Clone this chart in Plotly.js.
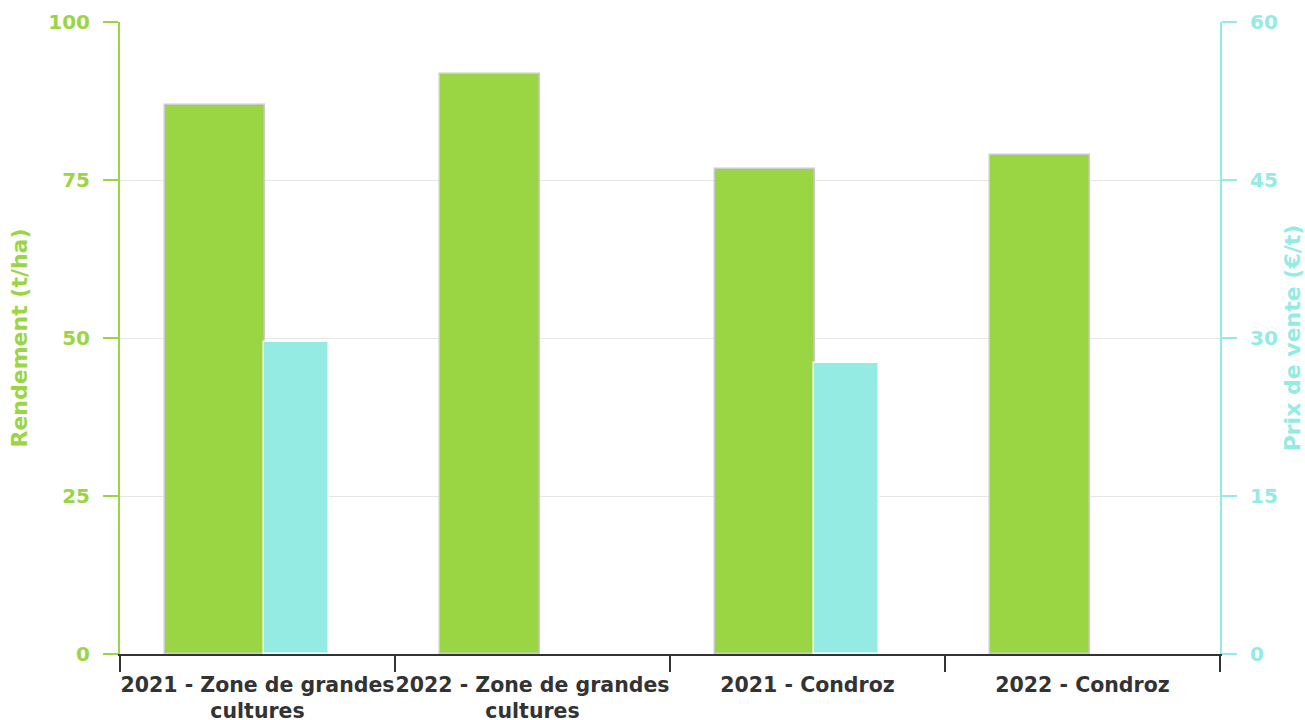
<!DOCTYPE html>
<html>
<head>
<meta charset="utf-8">
<script src="https://cdn.plot.ly/plotly-3.0.1.min.js"></script>
<style>html,body{margin:0;padding:0;background:#fff;}#chart{width:1305px;height:720px;}</style>
</head>
<body>
<div id="chart"></div>
<script>
const categories = ["2021 - Zone de grandes<br>cultures", "2022 - Zone de grandes<br>cultures", "2021 - Condroz", "2022 - Condroz"];
const rendement = [86.8, 91.8, 76.8, 78.9];
const prixVente = [29.6, null, 27.6, null];
const leftTicks = [0, 25, 50, 75, 100];
const rightTicks = [0, 15, 30, 45, 60];

const green = "#9ad544";
const cyan = "#94ebe4";
const font = "DejaVu Sans, sans-serif";

const traces = [
  {
    type: "bar", x: categories, y: rendement, yaxis: "y",
    name: "Rendement (t/ha)",
    marker: {color: green, line: {color: "#cccccc", width: 1.5}},
    offset: -0.336, width: 0.364, hoverinfo: "y"
  },
  {
    type: "bar", x: categories, y: prixVente, yaxis: "y2",
    name: "Prix de vente (€/t)",
    marker: {color: cyan, line: {color: "#ffffff", width: 1.5}},
    offset: 0.022, width: 0.238, hoverinfo: "y"
  }
];

const layout = {
  width: 1305, height: 720,
  margin: {l: 120, r: 85, t: 22, b: 66},
  paper_bgcolor: "#fff", plot_bgcolor: "#fff",
  showlegend: false,
  font: {family: font},
  xaxis: {
    type: "category",
    range: [-0.5, 3.5],
    tickangle: 0,
    showline: true, linecolor: "#333333", linewidth: 2,
    ticks: "outside", tickson: "boundaries", ticklen: 16, tickwidth: 2, tickcolor: "#333333",
    ticklabelstandoff: 11,
    tickfont: {family: font, size: 20.5, color: "#333333", weight: "bold"},
    showgrid: false, zeroline: false
  },
  yaxis: {
    range: [0, 100], tickvals: leftTicks, ticktext: leftTicks.map(String),
    showline: true, linecolor: green, linewidth: 2,
    ticks: "outside", ticklen: 15, tickwidth: 2, tickcolor: green, ticklabelstandoff: 9,
    tickfont: {family: font, size: 20, color: green, weight: "bold"},
    showgrid: true, gridcolor: "#e6e6e6", gridwidth: 1, zeroline: false,
    title: {text: "Rendement (t/ha)", font: {family: font, size: 22, color: green, weight: "bold"}, standoff: 15}
  },
  yaxis2: {
    overlaying: "y", side: "right",
    range: [0, 60], tickvals: rightTicks, ticktext: rightTicks.map(String),
    showline: true, linecolor: cyan, linewidth: 2,
    ticks: "outside", ticklen: 15, tickwidth: 2, tickcolor: cyan, ticklabelstandoff: 9,
    tickfont: {family: font, size: 20, color: cyan, weight: "bold"},
    showgrid: false, zeroline: false,
    title: {text: "Prix de vente (€/t)", font: {family: font, size: 22, color: cyan, weight: "bold"}, standoff: 10}
  },
  bargap: 0
};

Plotly.newPlot("chart", traces, layout, {displayModeBar: false, responsive: false});
</script>
</body>
</html>
